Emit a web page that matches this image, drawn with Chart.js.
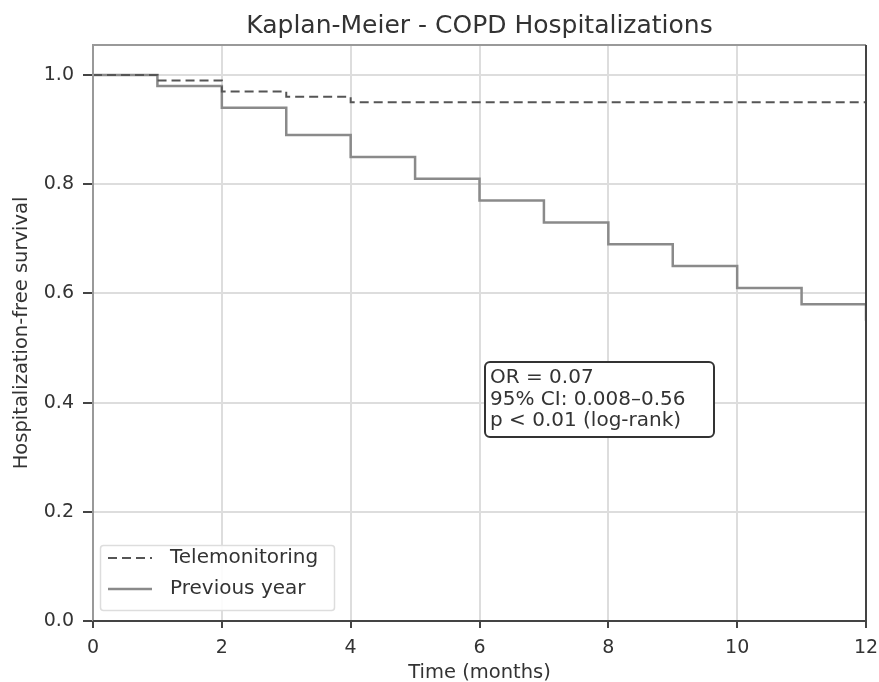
<!DOCTYPE html>
<html><head><meta charset="utf-8">
<script src="https://cdn.jsdelivr.net/npm/chart.js@4/dist/chart.umd.min.js"></script>
<style>html,body{margin:0;padding:0;background:#fff}#wrap{width:879px;height:682px}</style>
</head><body><div id="wrap"><canvas id="c" width="879" height="682"></canvas></div>
<script>
const months = [0,1,2,3,4,5,6,7,8,9,10,11,12];
const telemonitoring = [1.0,0.99,0.97,0.96,0.95,0.95,0.95,0.95,0.95,0.95,0.95,0.95,0.95];
const previousYear = [1.0,0.98,0.94,0.89,0.85,0.81,0.77,0.73,0.69,0.65,0.61,0.58,0.55];
const xTicks = [0,2,4,6,8,10,12];
const yTicks = [0,0.2,0.4,0.6,0.8,1.0];
const seriesLabels = ['Telemonitoring','Previous year'];
const titleText = 'Kaplan-Meier - COPD Hospitalizations';
const xTitle = 'Time (months)';
const yTitle = 'Hospitalization-free survival';
const statLines = ['OR = 0.07','95% CI: 0.008\u20130.56','p < 0.01 (log-rank)'];

const FONT = '"DejaVu Sans", sans-serif';
const TXT = '#333';

const decor = {
  id:'decor',
  afterDraw(chart){
    const ctx = chart.ctx, a = chart.chartArea;
    ctx.save();
    // frame
    ctx.lineWidth = 2;
    ctx.strokeStyle = '#999';
    ctx.beginPath(); ctx.moveTo(a.left, a.bottom); ctx.lineTo(a.left, a.top); ctx.lineTo(a.right, a.top); ctx.stroke();
    ctx.strokeStyle = '#444';
    ctx.beginPath(); ctx.moveTo(a.left, a.bottom); ctx.lineTo(a.right, a.bottom); ctx.lineTo(a.right, a.top); ctx.stroke();
    // title
    ctx.fillStyle = TXT;
    ctx.font = '25px ' + FONT;
    ctx.textAlign = 'center'; ctx.textBaseline = 'middle';
    ctx.fillText(titleText, (a.left + a.right)/2, 26);
    // legend
    const ds = chart.data.datasets;
    ctx.fillStyle = 'rgba(255,255,255,0.9)';
    ctx.strokeStyle = '#ddd'; ctx.lineWidth = 1.5;
    ctx.beginPath(); ctx.roundRect(100.5, 545.5, 234, 65, 3); ctx.fill(); ctx.stroke();
    ctx.font = '20px ' + FONT; ctx.textAlign = 'left'; ctx.fillStyle = TXT;
    ds.forEach((d, i) => {
      const y = 558 + i*31;
      ctx.strokeStyle = d.borderColor; ctx.lineWidth = d.borderWidth;
      ctx.setLineDash(d.borderDash || []);
      ctx.beginPath(); ctx.moveTo(108, y); ctx.lineTo(152, y); ctx.stroke();
      ctx.setLineDash([]);
      ctx.fillText(d.label, 170, y);
    });
    // stats box
    ctx.fillStyle = '#fff'; ctx.strokeStyle = '#333'; ctx.lineWidth = 2;
    ctx.beginPath(); ctx.roundRect(485, 362, 229, 75, 5); ctx.fill(); ctx.stroke();
    ctx.fillStyle = TXT; ctx.font = '20px ' + FONT;
    statLines.forEach((t, i) => ctx.fillText(t, 490, 378 + i*21.5));
    ctx.restore();
  }
};

new Chart(document.getElementById('c'), {
  type:'line',
  data:{
    datasets:[
      {label:seriesLabels[0], data:months.map((m,i)=>({x:m,y:telemonitoring[i]})), stepped:true,
       borderColor:'#555', borderWidth:2, borderDash:[9,5], pointRadius:0, fill:false},
      {label:seriesLabels[1], data:months.map((m,i)=>({x:m,y:previousYear[i]})), stepped:true,
       borderColor:'#8a8a8a', borderWidth:2.5, pointRadius:0, fill:false}
    ]
  },
  options:{
    responsive:false, animation:false,
    layout:{padding:{left:0, right:13, top:45, bottom:0}},
    plugins:{legend:{display:false}, title:{display:false}, tooltip:{enabled:false}},
    scales:{
      x:{type:'linear', min:0, max:12,
        afterBuildTicks:s=>{s.ticks = xTicks.map(v=>({value:v}));},
        afterFit:s=>{s.height = 61; s.paddingLeft = 0; s.paddingRight = 0;},
        grid:{color:'#ddd', lineWidth:2, tickColor:'#444', tickLength:7, drawOnChartArea:true},
        border:{display:false},
        ticks:{color:TXT, font:{family:FONT, size:19}, padding:9, maxRotation:0},
        title:{display:true, text:xTitle, color:TXT, font:{family:FONT, size:19.5}, padding:{top:0,bottom:-3}}
      },
      y:{type:'linear', min:0, max:1.055,
        afterBuildTicks:s=>{s.ticks = yTicks.map(v=>({value:v}));},
        afterFit:s=>{s.width = 93; s.paddingTop = 0; s.paddingBottom = 0;},
        grid:{color:'#ddd', lineWidth:2, tickColor:'#444', tickLength:10},
        border:{display:false},
        ticks:{color:TXT, font:{family:FONT, size:19}, padding:9, callback:v=>Number(v).toFixed(1)},
        title:{display:true, text:yTitle, color:TXT, font:{family:FONT, size:19.5}, padding:{top:10,bottom:4}}
      }
    }
  },
  plugins:[decor]
});
</script></body></html>
